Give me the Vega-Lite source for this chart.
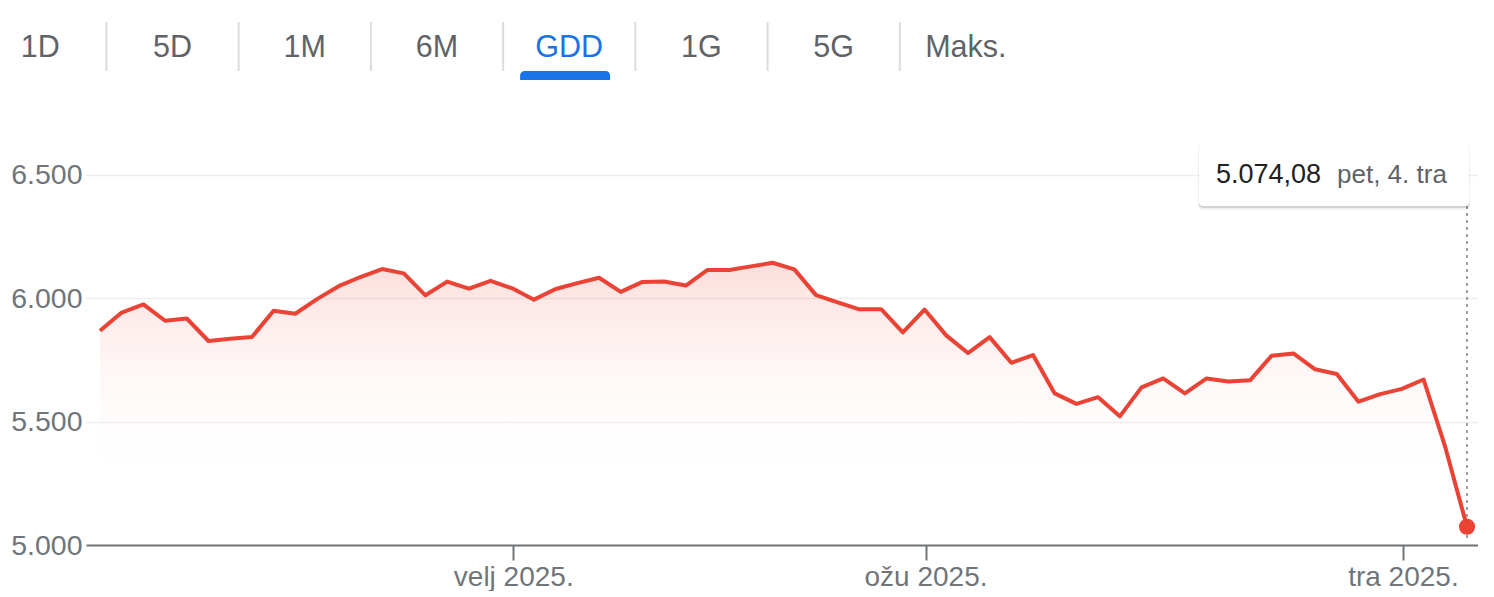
{
  "$schema": "https://vega.github.io/schema/vega-lite/v6.json",
  "padding": 0,
  "spacing": 0,
  "config": {
    "view": {"stroke": null},
    "font": "Liberation Sans",
    "locale": {
      "number": {"decimal": ",", "thousands": ".", "grouping": [3], "currency": ["", " €"]},
      "time": {
        "dateTime": "%A, %e. %B %Y. %X",
        "date": "%d.%m.%Y.",
        "time": "%H:%M:%S",
        "periods": ["AM", "PM"],
        "days": ["nedjelja", "ponedjeljak", "utorak", "srijeda", "četvrtak", "petak", "subota"],
        "shortDays": ["ned", "pon", "uto", "sri", "čet", "pet", "sub"],
        "months": ["siječanj", "veljača", "ožujak", "travanj", "svibanj", "lipanj", "srpanj", "kolovoz", "rujan", "listopad", "studeni", "prosinac"],
        "shortMonths": ["sij", "velj", "ožu", "tra", "svi", "lip", "srp", "kol", "ruj", "lis", "stu", "pro"]
      }
    }
  },
  "datasets": {
    "tabs": [
      {"tab": "1D"}, {"tab": "5D"}, {"tab": "1M"}, {"tab": "6M"},
      {"tab": "GDD"}, {"tab": "1G"}, {"tab": "5G"}, {"tab": "Maks."}
    ],
    "sp": [
      {"d": "2025-01-02", "v": 5868.55},
      {"d": "2025-01-03", "v": 5942.47},
      {"d": "2025-01-06", "v": 5975.38},
      {"d": "2025-01-07", "v": 5909.03},
      {"d": "2025-01-08", "v": 5918.25},
      {"d": "2025-01-10", "v": 5827.04},
      {"d": "2025-01-13", "v": 5836.22},
      {"d": "2025-01-14", "v": 5842.91},
      {"d": "2025-01-15", "v": 5949.91},
      {"d": "2025-01-16", "v": 5937.34},
      {"d": "2025-01-17", "v": 5996.66},
      {"d": "2025-01-21", "v": 6049.24},
      {"d": "2025-01-22", "v": 6086.37},
      {"d": "2025-01-23", "v": 6118.71},
      {"d": "2025-01-24", "v": 6101.24},
      {"d": "2025-01-27", "v": 6012.28},
      {"d": "2025-01-28", "v": 6067.70},
      {"d": "2025-01-29", "v": 6039.31},
      {"d": "2025-01-30", "v": 6071.17},
      {"d": "2025-01-31", "v": 6040.53},
      {"d": "2025-02-03", "v": 5994.57},
      {"d": "2025-02-04", "v": 6037.88},
      {"d": "2025-02-05", "v": 6061.48},
      {"d": "2025-02-06", "v": 6083.57},
      {"d": "2025-02-07", "v": 6025.99},
      {"d": "2025-02-10", "v": 6066.44},
      {"d": "2025-02-11", "v": 6068.50},
      {"d": "2025-02-12", "v": 6051.97},
      {"d": "2025-02-13", "v": 6115.07},
      {"d": "2025-02-14", "v": 6114.63},
      {"d": "2025-02-18", "v": 6129.58},
      {"d": "2025-02-19", "v": 6144.15},
      {"d": "2025-02-20", "v": 6117.52},
      {"d": "2025-02-21", "v": 6013.13},
      {"d": "2025-02-24", "v": 5983.25},
      {"d": "2025-02-25", "v": 5955.25},
      {"d": "2025-02-26", "v": 5956.06},
      {"d": "2025-02-27", "v": 5861.57},
      {"d": "2025-02-28", "v": 5954.50},
      {"d": "2025-03-03", "v": 5849.72},
      {"d": "2025-03-04", "v": 5778.15},
      {"d": "2025-03-05", "v": 5842.63},
      {"d": "2025-03-06", "v": 5738.52},
      {"d": "2025-03-07", "v": 5770.20},
      {"d": "2025-03-10", "v": 5614.56},
      {"d": "2025-03-11", "v": 5572.07},
      {"d": "2025-03-12", "v": 5599.30},
      {"d": "2025-03-13", "v": 5521.52},
      {"d": "2025-03-14", "v": 5638.94},
      {"d": "2025-03-17", "v": 5675.12},
      {"d": "2025-03-18", "v": 5614.66},
      {"d": "2025-03-19", "v": 5675.29},
      {"d": "2025-03-20", "v": 5662.89},
      {"d": "2025-03-21", "v": 5667.56},
      {"d": "2025-03-24", "v": 5767.57},
      {"d": "2025-03-25", "v": 5776.65},
      {"d": "2025-03-26", "v": 5712.20},
      {"d": "2025-03-27", "v": 5693.31},
      {"d": "2025-03-28", "v": 5580.94},
      {"d": "2025-03-31", "v": 5611.85},
      {"d": "2025-04-01", "v": 5633.07},
      {"d": "2025-04-02", "v": 5670.97},
      {"d": "2025-04-03", "v": 5396.52},
      {"d": "2025-04-04", "v": 5074.08}
    ]
  },
  "vconcat": [
    {
      "width": 1006,
      "height": 100,
      "data": {"name": "tabs"},
      "encoding": {
        "x": {
          "field": "tab", "type": "nominal",
          "scale": {"type": "point", "padding": 0.304, "domain": ["1D", "5D", "1M", "6M", "GDD", "1G", "5G", "Maks."]},
          "axis": null
        }
      },
      "layer": [
        {
          "transform": [{"filter": "datum.tab !== '1D'"}],
          "mark": {"type": "rule", "color": "#dadce0", "strokeWidth": 2, "xOffset": -152},
          "encoding": {
            "y": {"datum": 22, "type": "quantitative", "scale": {"domain": [0, 100], "reverse": true}, "axis": null},
            "y2": {"datum": 71}
          }
        },
        {
          "transform": [{"filter": "datum.tab === 'GDD'"}],
          "mark": {"type": "rect", "color": "#1a73e8", "xOffset": -135, "x2Offset": -45, "cornerRadiusTopLeft": 6, "cornerRadiusTopRight": 6},
          "encoding": {
            "x2": {"field": "tab"},
            "y": {"datum": 71, "type": "quantitative", "scale": {"domain": [0, 100], "reverse": true}, "axis": null},
            "y2": {"datum": 80}
          }
        },
        {
          "mark": {"type": "text", "fontSize": 30.5, "baseline": "alphabetic", "align": "center", "dx": -86},
          "encoding": {
            "y": {"datum": 56.5, "type": "quantitative", "scale": {"domain": [0, 100], "reverse": true}, "axis": null},
            "text": {"field": "tab"},
            "color": {"condition": {"test": "datum.tab === 'GDD'", "value": "#1a73e8"}, "value": "#5f6368"}
          }
        }
      ]
    },
    {
      "width": 1392,
      "height": 445,
      "data": {"name": "sp"},
      "encoding": {
        "x": {
          "field": "d",
          "type": "ordinal",
          "scale": {"type": "point", "padding": 0.576, "align": 0.56},
          "axis": {
            "title": null,
            "values": ["2025-01-31", "2025-02-28", "2025-04-01"],
            "labelExpr": "datum.value === '2025-01-31' ? 'velj 2025.' : datum.value === '2025-02-28' ? 'ožu 2025.' : 'tra 2025.'",
            "labelAngle": 0,
            "labelFontSize": 28,
            "labelColor": "#70757a",
            "labelPadding": 3,
            "tickOffset": 1,
            "tickSize": 15,
            "tickWidth": 2,
            "tickColor": "#70757a",
            "domainColor": "#70757a",
            "domainWidth": 2,
            "grid": false,
            "labelOverlap": false
          }
        }
      },
      "layer": [
        {
          "mark": {
            "type": "area",
            "fill": {
              "gradient": "linear", "x1": 0, "y1": 0, "x2": 0, "y2": 1,
              "stops": [
                {"offset": 0, "color": "rgba(234,67,53,0.18)"},
                {"offset": 0.78, "color": "rgba(255,255,255,0)"}
              ]
            }
          },
          "encoding": {
            "y": {
              "field": "v", "type": "quantitative",
              "scale": {"domain": [5000, 6804], "nice": false, "zero": false},
              "axis": {
                "title": null,
                "values": [5000, 5500, 6000, 6500],
                "format": ",.0f",
                "domain": false,
                "ticks": false,
                "labelFontSize": 28.5,
                "labelColor": "#70757a",
                "labelPadding": 4,
                "gridColor": "#eeeeee",
                "gridWidth": 1.5,
                "minExtent": 86
              }
            },
            "y2": {"datum": 5000}
          }
        },
        {
          "mark": {"type": "line", "color": "#ea4335", "strokeWidth": 4, "strokeJoin": "round"},
          "encoding": {"y": {"field": "v", "type": "quantitative"}}
        },
        {
          "transform": [{"filter": "datum.d === '2025-04-04'"}],
          "mark": {"type": "rule", "color": "#9aa0a6", "strokeWidth": 2, "strokeDash": [3, 4]},
          "encoding": {"y": {"datum": 5028, "type": "quantitative"}, "y2": {"datum": 6374}}
        },
        {
          "transform": [{"filter": "datum.d === '2025-04-04'"}],
          "mark": {"type": "circle", "color": "#ea4335", "size": 260, "opacity": 1},
          "encoding": {"y": {"field": "v", "type": "quantitative"}}
        },
        {
          "transform": [{"filter": "datum.d === '2025-04-04'"}],
          "mark": {"type": "rect", "fill": "#000000", "opacity": 0.06, "cornerRadius": 5, "xOffset": -269, "x2Offset": 3, "yOffset": 0, "y2Offset": 4},
          "encoding": {"x2": {"field": "d"}, "y": {"datum": 6630, "type": "quantitative"}, "y2": {"datum": 6374}}
        },
        {
          "transform": [{"filter": "datum.d === '2025-04-04'"}],
          "mark": {"type": "rect", "fill": "#000000", "opacity": 0.12, "cornerRadius": 4, "xOffset": -268, "x2Offset": 2, "yOffset": 1, "y2Offset": 2},
          "encoding": {"x2": {"field": "d"}, "y": {"datum": 6630, "type": "quantitative"}, "y2": {"datum": 6374}}
        },
        {
          "transform": [{"filter": "datum.d === '2025-04-04'"}],
          "mark": {"type": "rect", "fill": "#ffffff", "cornerRadius": 4, "xOffset": -268, "x2Offset": 2},
          "encoding": {"x2": {"field": "d"}, "y": {"datum": 6630, "type": "quantitative"}, "y2": {"datum": 6374}}
        },
        {
          "transform": [{"filter": "datum.d === '2025-04-04'"}],
          "mark": {"type": "text", "fontSize": 27, "color": "#202124", "align": "left", "baseline": "alphabetic", "dx": -251},
          "encoding": {"y": {"datum": 6467, "type": "quantitative"}, "text": {"field": "v", "type": "quantitative", "format": ",.2f"}}
        },
        {
          "transform": [
            {"filter": "datum.d === '2025-04-04'"},
            {"calculate": "utcFormat(toDate(datum.d), '%a, %-d. %b')", "as": "lbl"}
          ],
          "mark": {"type": "text", "fontSize": 26, "color": "#5f6368", "align": "left", "baseline": "alphabetic", "dx": -130},
          "encoding": {"y": {"datum": 6467, "type": "quantitative"}, "text": {"field": "lbl", "type": "nominal"}}
        }
      ]
    }
  ]
}
